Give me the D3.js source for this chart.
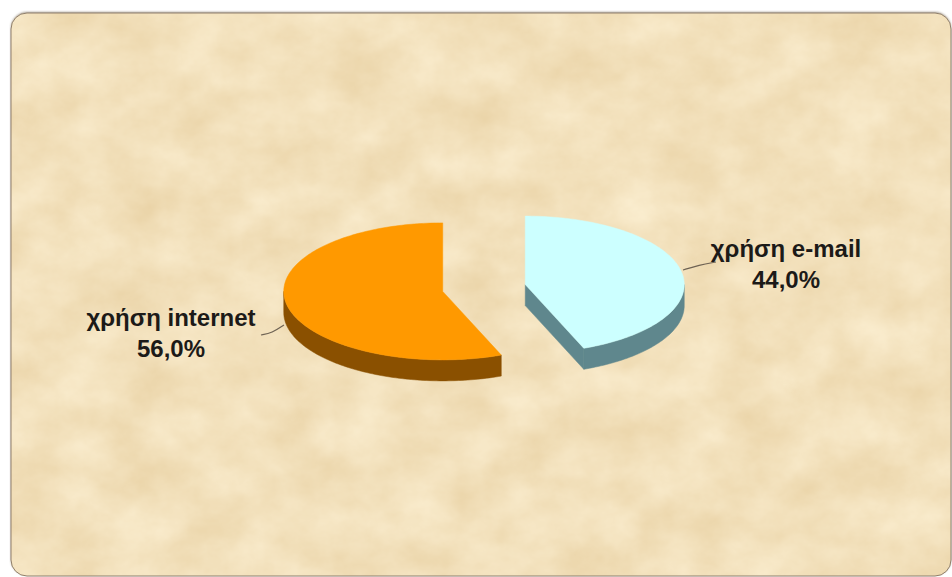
<!DOCTYPE html>
<html>
<head>
<meta charset="utf-8">
<script src="https://cdn.jsdelivr.net/npm/d3@7"></script>
<style>
  html, body { margin: 0; padding: 0; background: #ffffff; overflow: hidden; }
  svg { display: block; }
</style>
</head>
<body>
<svg id="chart" width="952" height="577"></svg>
<script>
// Slice data (drawn clockwise from 12 o'clock)
const categories  = ["χρήση e-mail", "χρήση internet"];
const values      = [44.0, 56.0];
const valueLabels = ["44,0%", "56,0%"];
const topColors   = ["#CCFFFF", "#FF9900"];
const sideColors  = ["#5F878D", "#8A5000"];

const W = 952, H = 577;
const svg = d3.select("#chart");
const defs = svg.append("defs");

// Parchment texture for the plot panel
const tex = defs.append("filter").attr("id", "parchment")
  .attr("color-interpolation-filters", "sRGB")
  .attr("x", 0).attr("y", 0).attr("width", "100%").attr("height", "100%");
tex.append("feTurbulence").attr("type", "fractalNoise")
  .attr("baseFrequency", "0.018 0.022").attr("numOctaves", 5).attr("seed", 11)
  .attr("result", "noise");
tex.append("feColorMatrix").attr("in", "noise").attr("type", "matrix")
  .attr("values", [
    0.07, 0, 0, 0, 0.915,
    0.11, 0, 0, 0, 0.825,
    0.17, 0, 0, 0, 0.650,
    0,    0, 0, 0, 1
  ].join(" "))
  .attr("result", "col");
tex.append("feComposite").attr("in", "col").attr("in2", "SourceGraphic").attr("operator", "in");

const shadow = defs.append("filter").attr("id", "frameShadow")
  .attr("x", "-5%").attr("y", "-5%").attr("width", "110%").attr("height", "110%");
shadow.append("feDropShadow").attr("dx", 0).attr("dy", -1).attr("stdDeviation", 1.2)
  .attr("flood-color", "#6b5a48").attr("flood-opacity", 0.6);

// Panel frame
const panel = { x: 11, y: 13, w: 940, h: 563, r: 16 };
svg.append("rect")
  .attr("x", panel.x).attr("y", panel.y).attr("width", panel.w).attr("height", panel.h)
  .attr("rx", panel.r).attr("ry", panel.r)
  .attr("fill", "#EFD8B0").attr("filter", "url(#frameShadow)");
svg.append("rect")
  .attr("x", panel.x).attr("y", panel.y).attr("width", panel.w).attr("height", panel.h)
  .attr("rx", panel.r).attr("ry", panel.r)
  .attr("fill", "#EFD8B0").attr("filter", "url(#parchment)");
svg.append("rect")
  .attr("x", panel.x).attr("y", panel.y).attr("width", panel.w).attr("height", panel.h)
  .attr("rx", panel.r).attr("ry", panel.r)
  .attr("fill", "none").attr("stroke", "#8f7f6c").attr("stroke-width", 1);

// 3D pie geometry
const cx = 484, cy = 288;      // pie centre
const rx = 159, ry = 68.5;     // ellipse radii of the top face
const tilt = ry / rx;
const depth = 21;              // thickness of the disc
const explode = 42;            // slice separation (in the unprojected plane)

const pie = d3.pie().sort(null).value(d => d).startAngle(0).endAngle(2 * Math.PI);
const arcs = pie(values);

const pt = (a, r) => [r * Math.sin(a), -r * Math.cos(a) * tilt];
const line = d3.line();

function arcPoints(a0, a1, dy) {
  const n = Math.max(2, Math.ceil(Math.abs(a1 - a0) / 0.02));
  return d3.range(n + 1).map(i => {
    const a = a0 + (a1 - a0) * i / n;
    const p = pt(a, rx);
    return [p[0], p[1] + dy];
  });
}

const pieG = svg.append("g").attr("transform", `translate(${cx},${cy})`);

arcs.forEach((d, i) => {
  const mid = (d.startAngle + d.endAngle) / 2;
  const off = pt(mid, explode);
  const g = pieG.append("g").attr("transform", `translate(${off[0]},${off[1]})`);

  // Cut faces that turn toward the viewer
  [[d.startAngle, -1], [d.endAngle, 1]].forEach(([a, dir]) => {
    if (dir * Math.sin(a) > 1e-6) {
      const p = pt(a, rx);
      g.append("path")
        .attr("d", line([[0, 0], p, [p[0], p[1] + depth], [0, depth]]) + "Z")
        .attr("fill", sideColors[i]).attr("stroke", sideColors[i]).attr("stroke-width", 0.5);
    }
  });

  // Outer rim on the front half of the disc
  const r0 = Math.max(d.startAngle, Math.PI / 2);
  const r1 = Math.min(d.endAngle, 3 * Math.PI / 2);
  if (r1 > r0) {
    const pts = arcPoints(r0, r1, 0).concat(arcPoints(r1, r0, depth));
    g.append("path").attr("d", line(pts) + "Z")
      .attr("fill", sideColors[i]).attr("stroke", sideColors[i]).attr("stroke-width", 0.5);
  }

  // Top face
  const top = [[0, 0]].concat(arcPoints(d.startAngle, d.endAngle, 0));
  g.append("path").attr("d", line(top) + "Z")
    .attr("fill", topColors[i]).attr("stroke", topColors[i]).attr("stroke-width", 0.5);
});

// Data labels with leader lines
const labelLayout = [
  { tx: 786, ty: 257, lead: [[683, 270], [699, 265], [716, 262]] },
  { tx: 171, ty: 326, lead: [[284, 325], [272, 333], [261, 335]] }
];
const labels = svg.append("g")
  .attr("font-family", "'Liberation Sans', Arial, sans-serif")
  .attr("font-weight", "bold").attr("font-size", 24).attr("fill", "#1c1a18")
  .attr("text-anchor", "middle");

arcs.forEach((d, i) => {
  const L = labelLayout[i];
  svg.append("path")
    .attr("d", d3.line().curve(d3.curveBasis)(L.lead))
    .attr("fill", "none").attr("stroke", "#6e6253").attr("stroke-width", 1.2);
  const t = labels.append("text").attr("x", L.tx).attr("y", L.ty);
  t.append("tspan").attr("x", L.tx).text(categories[i]);
  t.append("tspan").attr("x", L.tx).attr("dy", 31).text(valueLabels[i]);
});
</script>
</body>
</html>
